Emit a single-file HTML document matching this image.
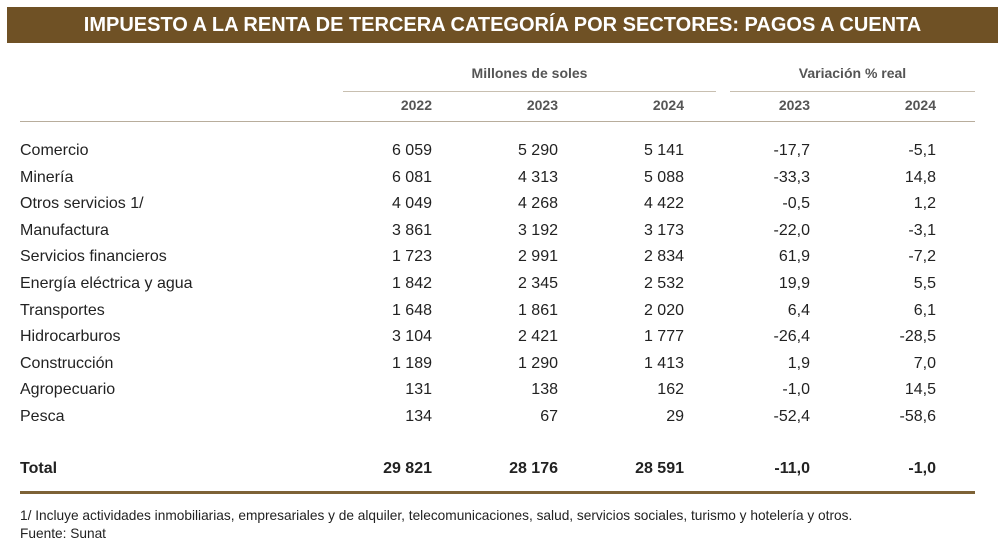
<!DOCTYPE html>
<html><head><meta charset="utf-8"><style>
body{margin:0;width:1000px;height:533px;overflow:hidden;background:#fff;font-family:"Liberation Sans",sans-serif;position:relative}
.a{position:absolute;white-space:nowrap}
.t{left:7px;top:7px;width:991px;height:36px;background:#6f5125;color:#fff;font-weight:bold;font-size:20px;line-height:36px;text-align:center}
.h{font-size:14px;font-weight:bold;color:#555}
.r{font-size:16px;color:#222}
.ln{position:absolute;background:#c8bfb0;height:1px}
</style></head><body>
<div class="a t">IMPUESTO A LA RENTA DE TERCERA CATEGORÍA POR SECTORES: PAGOS A CUENTA</div>
<div class="a h" style="left:343px;width:373px;text-align:center;top:65px">Millones de soles</div>
<div class="a h" style="left:730px;width:245px;text-align:center;top:65px">Variación % real</div>
<div class="ln" style="left:343px;width:373px;top:91px"></div>
<div class="ln" style="left:730px;width:245px;top:91px"></div>
<div class="ln" style="left:20px;width:955px;top:121px;background:#b8ad9c"></div>
<div class="ln" style="left:20px;width:955px;top:491px;height:3px;background:#7d6236"></div>
<div class="a" style="left:20px;top:508px;font-size:13.7px;color:#222">1/ Incluye actividades inmobiliarias, empresariales y de alquiler, telecomunicaciones, salud, servicios sociales, turismo y hotelería y otros.</div>
<div class="a" style="left:20px;top:526px;font-size:13.7px;color:#222">Fuente: Sunat</div>
<script>
const years=["2022","2023","2024","2023","2024"];
const sectors=["Comercio","Minería","Otros servicios 1/","Manufactura","Servicios financieros","Energía eléctrica y agua","Transportes","Hidrocarburos","Construcción","Agropecuario","Pesca"];
const v2022=["6 059","6 081","4 049","3 861","1 723","1 842","1 648","3 104","1 189","131","134"];
const v2023=["5 290","4 313","4 268","3 192","2 991","2 345","1 861","2 421","1 290","138","67"];
const v2024=["5 141","5 088","4 422","3 173","2 834","2 532","2 020","1 777","1 413","162","29"];
const var2023=["-17,7","-33,3","-0,5","-22,0","61,9","19,9","6,4","-26,4","1,9","-1,0","-52,4"];
const var2024=["-5,1","14,8","1,2","-3,1","-7,2","5,5","6,1","-28,5","7,0","14,5","-58,6"];
const total=["29 821","28 176","28 591","-11,0","-1,0"];
const colRight=[432,558,684,810,936];
function put(txt,cls,y,right,left,name,bold){
  const d=document.createElement('div');
  d.className='a '+cls;d.textContent=txt;
  
  
  d.style.top=y+'px';
  if(right!=null){d.style.right=(1000-right)+'px';}else d.style.left=left+'px';
  if(bold)d.style.fontWeight='bold';
  document.body.appendChild(d);
}
years.forEach((y,i)=>put(y,'h',97,colRight[i],null,'year-header',false));
const cols=[v2022,v2023,v2024,var2023,var2024];
sectors.forEach((s,i)=>{
  const y=142+i*26.6;
  put(s,'r',y,null,20,'sector-label',false);
  cols.forEach((c,j)=>put(c[i],'r',y,colRight[j],null,'cell-value',false));
});
put('Total','r',460,null,20,'total-label',true);
total.forEach((t,j)=>put(t,'r',460,colRight[j],null,'total-value',true));
</script>
</body></html>
